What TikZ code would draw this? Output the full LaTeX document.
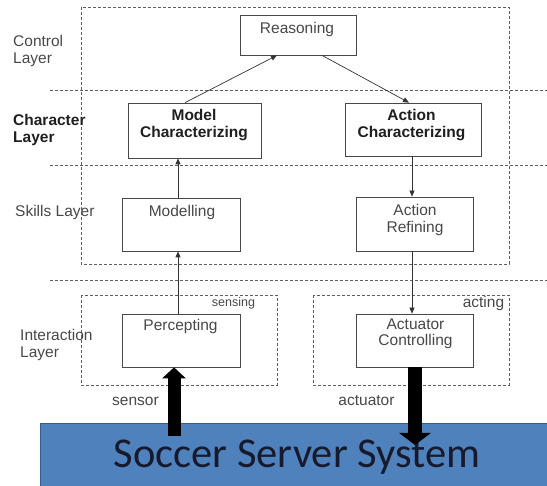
\documentclass[tikz,border=0pt]{standalone}
\usepackage{fontspec}
\setmainfont{Liberation Sans}
\newfontfamily\carlito{Carlito}
\usetikzlibrary{arrows.meta}
\definecolor{ssblue}{RGB}{79,129,189}
\definecolor{ssedge}{RGB}{56,93,138}
\definecolor{sstext}{RGB}{22,26,44}
\definecolor{inkgray}{RGB}{72,72,72}
\definecolor{dashgray}{RGB}{95,95,95}

\begin{document}
\begin{tikzpicture}[x=1pt,y=-1pt,
  font=\fontsize{15.5}{16.5}\selectfont,
  layerline/.style={dashgray, line width=0.6pt, dash pattern=on 3pt off 2pt},
  box/.style={draw=inkgray, line width=0.7pt, fill=white, inner sep=0pt},
  boxtext/.style={text=inkgray, align=center, inner sep=0pt},
  boldtext/.style={text=black!88, font=\fontsize{15.5}{16.5}\selectfont\bfseries, align=center, inner sep=0pt},
  layertext/.style={text=inkgray, align=left, anchor=west, inner sep=0pt},
  flow/.style={black!80, line width=0.7pt, -{Triangle[length=6pt,width=5pt]}}
]
\useasboundingbox (0,0) rectangle (547,486);

% layer frames and separators
\draw[layerline] (81,7) rectangle (509,264);
\draw[layerline] (50,90) -- (547,90);
\draw[layerline] (50,165) -- (547,165);
\draw[layerline] (50,280) -- (547,280);
\draw[layerline] (81,295) rectangle (277,385);
\draw[layerline] (313,295) rectangle (509,385);

% layer names
\node[layertext] (lcontrol) at (13,51) {Control\\Layer};
\node[layertext, text=black!88, font=\fontsize{15.5}{16.5}\selectfont\bfseries] (lcharacter) at (13,130) {Character\\Layer};
\node[layertext] (lskills) at (15,212) {Skills Layer};
\node[layertext] (linteraction) at (20,345) {Interaction\\Layer};

% module boxes
\node[box, minimum width=116pt, minimum height=40pt] (reasoning) at (298,35) {};
\node[box, minimum width=133pt, minimum height=55pt] (modelchar) at (194.5,130.5) {};
\node[box, minimum width=136pt, minimum height=53pt] (actionchar) at (413,129.5) {};
\node[box, minimum width=118pt, minimum height=53pt] (modelling) at (181,224.5) {};
\node[box, minimum width=117pt, minimum height=54pt] (actionref) at (414.5,224) {};
\node[box, minimum width=118pt, minimum height=53pt] (percepting) at (181,340.5) {};
\node[box, minimum width=117pt, minimum height=53pt] (actuator) at (414.5,340.5) {};

% module texts
\node[boxtext] (treasoning) at (297,29) {Reasoning};
\node[boldtext] (tmodelchar) at (194,125) {Model\\Characterizing};
\node[boldtext] (tactionchar) at (411.5,125) {Action\\Characterizing};
\node[boxtext] (tmodelling) at (182,212) {Modelling};
\node[boxtext] (tactionref) at (415,220) {Action\\Refining};
\node[boxtext] (tpercepting) at (180.5,326) {Percepting};
\node[boxtext] (tactuator) at (415.5,334) {Actuator\\Controlling};

% small captions
\node[boxtext, font=\fontsize{12.5}{13}\selectfont] (tsensing) at (233.5,303) {sensing};
\node[boxtext] (tacting) at (483.5,303) {acting};
\node[boxtext] (tsensor) at (135.5,401) {sensor};
\node[boxtext] (tactuatorlbl) at (366.5,401) {actuator};

% soccer server
\fill[ssblue] (40,424) rectangle (550,490);
\draw[ssedge, line width=1pt] (40,490) -- (40,424) -- (550,424);
\node[anchor=base, inner sep=0pt, text=sstext, font=\carlito\fontsize{42.5}{46}\selectfont] (server) at (297,468) {Soccer Server System};

% information flow
\draw[flow] ([xshift=-9.5pt]modelchar.north) -- ([xshift=-21pt]reasoning.south);
\draw[flow] ([xshift=24pt]reasoning.south) -- ([xshift=-4pt]actionchar.north);
\draw[flow] ([xshift=-3pt]modelling.north) -- ([xshift=-3pt]modelling.north |- modelchar.south);
\draw[flow] ([xshift=-3pt]percepting.north) -- ([xshift=-3pt]percepting.north |- modelling.south);
\draw[flow] ([xshift=-1pt]actionchar.south) -- ([xshift=-1pt]actionchar.south |- actionref.north);
\draw[flow] ([xshift=-2.5pt]actionref.south) -- ([xshift=-2.5pt]actionref.south |- actuator.north);

% sensor and actuator channels
\coordinate (sensbase) at (174,436);
\coordinate (acttip) at (415,445);
\draw[black, line width=13pt, -{Triangle[length=11pt,width=23pt]}] (sensbase) -- (sensbase |- percepting.south);
\draw[black, line width=14pt, -{Triangle[length=12pt,width=31pt]}] (acttip |- actuator.south) -- (acttip);
\end{tikzpicture}
\end{document}
